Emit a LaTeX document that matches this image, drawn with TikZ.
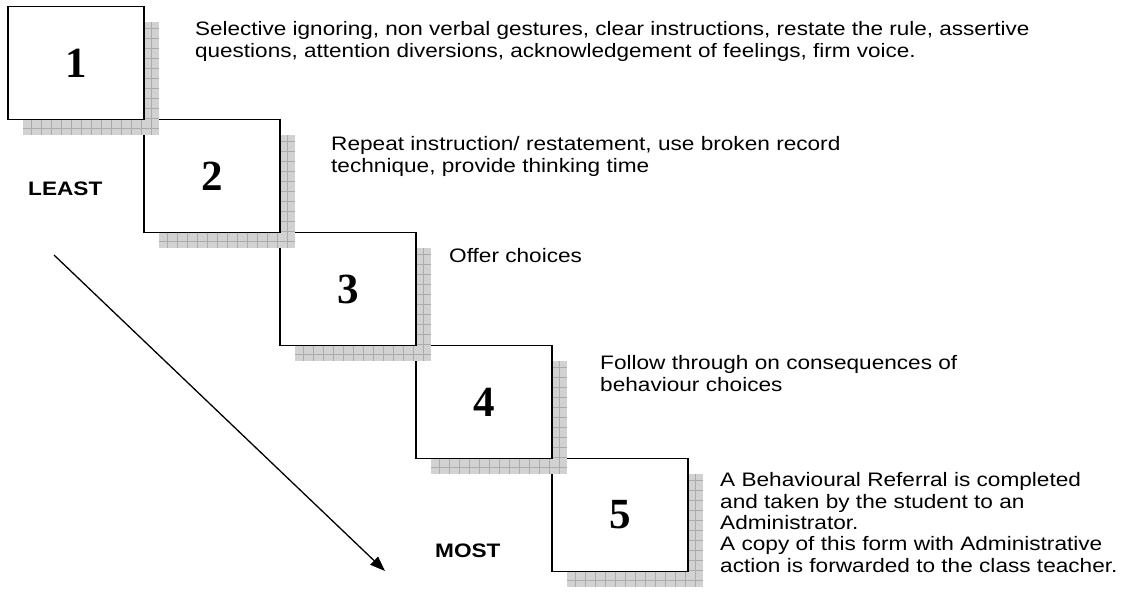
\documentclass[tikz,border=0pt]{standalone}
\usepackage{fontspec}
\setmainfont{Liberation Sans}[FakeStretch=1.16]
\newfontfamily\numfont{Liberation Serif}
\usetikzlibrary{arrows.meta}
\tikzset{
  stepbox/.style={draw, line width=1.4pt, fill=white, minimum width=136pt,
    minimum height=113pt, inner sep=0pt,
    font=\numfont\bfseries\fontsize{43}{43}\selectfont},
  shadowbox/.style={minimum width=136pt, minimum height=113pt, inner sep=0pt,
    fill=gray!35, path picture={\draw[gray!65, line width=0.5pt, step=10pt]
      (path picture bounding box.south west) grid (path picture bounding box.north east);}},
  note/.style={anchor=base west, inner sep=0pt, align=left,
    font=\fontsize{19.5}{21.3}\selectfont},
  endlabel/.style={anchor=base west, inner sep=0pt,
    font=\bfseries\fontsize{19.5}{21.3}\selectfont}
}

\begin{document}
\begin{tikzpicture}[x=1pt, y=-1pt]
    \useasboundingbox (0,0) rectangle (1127,598);
    % steps, from the bottom up so each shadow lies over the next box
    \foreach \i in {5,4,3,2,1}
    {
        \node[shadowbox] (s\i) at ({91+136*(\i-1)}, {78+113*(\i-1)}) {};
        \node[stepbox] (b\i) at ({76+136*(\i-1)}, {63+113*(\i-1)}) {\i};
    }
    % notes sit on the baseline of their last line
    \node[note, font=\fontsize{19.4}{21.3}\selectfont] (t1) at (195,57) {Selective ignoring, non verbal gestures, clear instructions, restate the rule, assertive\\questions, attention diversions, acknowledgement of feelings, firm voice.};
    \node[note] (t2) at (331,172) {Repeat instruction/ restatement, use broken record\\technique, provide thinking time};
    \node[note] (t3) at (449,262) {Offer choices};
    \node[note] (t4) at (600,391) {Follow through on consequences of\\behaviour choices};
    \node[note] (t5) at (720,572) {A Behavioural Referral is completed\\and taken by the student to an\\Administrator.\\A copy of this form with Administrative\\action is forwarded to the class teacher.};
    \node[endlabel] (least) at (28,195) {LEAST};
    \node[endlabel] (most) at (435,557) {MOST};
    \coordinate (top) at (54,255);
    \coordinate (bottom) at (385,571);
    \draw[line width=1.3pt, -{Triangle[length=15pt, width=11pt]}] (top) -- (bottom);
\end{tikzpicture}
\end{document}
